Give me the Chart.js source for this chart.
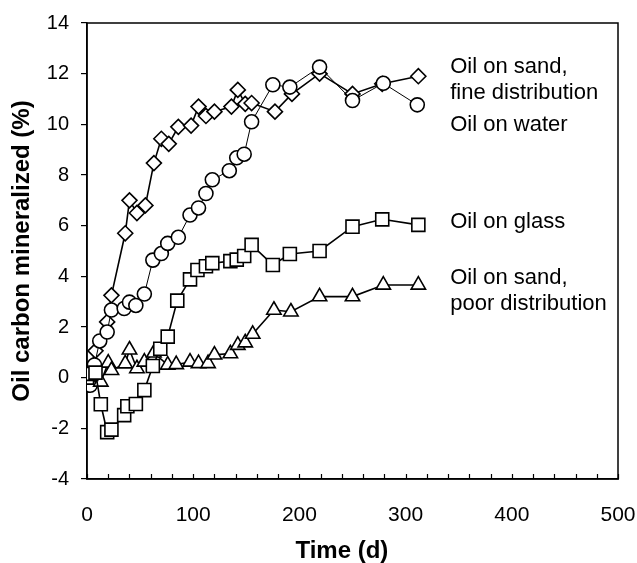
<!DOCTYPE html>
<html>
<head>
<meta charset="utf-8">
<script src="https://cdn.jsdelivr.net/npm/chart.js@4"></script>
<style>
  html, body { margin: 0; padding: 0; background: #fff; }
  #wrap { width: 637px; height: 563px; }
</style>
</head>
<body>
<div id="wrap"><canvas id="oilChart" width="637" height="563"></canvas></div>
<script>
const sandFineDays = [0, 8, 19, 23, 36, 40, 47, 55, 63, 70, 77, 86, 98, 105, 112, 120, 136, 142, 149, 155, 177, 193, 219, 250, 278, 312];
const sandFineValues = [0, 1.06, 2.2, 3.25, 5.7, 7.0, 6.5, 6.8, 8.47, 9.43, 9.23, 9.9, 9.95, 10.7, 10.33, 10.5, 10.7, 11.36, 10.81, 10.84, 10.5, 11.2, 12.0, 11.2, 11.6, 11.9];

const waterDays = [3, 7, 12, 19, 23, 35, 40, 46, 54, 62, 70, 76, 86, 97, 105, 112, 118, 134, 141, 148, 155, 175, 191, 219, 250, 279, 311];
const waterValues = [-0.3, 0.5, 1.45, 1.8, 2.67, 2.73, 2.98, 2.85, 3.3, 4.64, 4.9, 5.3, 5.54, 6.42, 6.7, 7.27, 7.81, 8.17, 8.68, 8.82, 10.1, 11.56, 11.47, 12.26, 10.94, 11.62, 10.77];

const glassDays = [0, 4, 8, 13, 19, 23, 35, 38, 46, 54, 62, 69, 76, 85, 97, 104, 112, 118, 135, 141, 148, 155, 175, 191, 219, 250, 278, 312];
const glassValues = [0, 0.15, 0.2, -1.05, -2.15, -2.05, -1.48, -1.13, -1.04, -0.49, 0.46, 1.14, 1.62, 3.04, 3.88, 4.25, 4.4, 4.52, 4.6, 4.66, 4.8, 5.24, 4.45, 4.88, 5.0, 5.96, 6.25, 6.03];

const sandPoorDays = [0, 13, 20, 23, 36, 40, 47, 54, 63, 76, 84, 97, 105, 114, 120, 135, 142, 149, 156, 176, 192, 219, 250, 279, 312];
const sandPoorValues = [0, -0.17, 0.58, 0.29, 0.55, 1.1, 0.36, 0.62, 0.98, 0.5, 0.52, 0.62, 0.56, 0.56, 0.9, 0.95, 1.28, 1.38, 1.72, 2.67, 2.6, 3.2, 3.2, 3.66, 3.66];

// Beschriftungen im Diagramm: [Text, x (Tage), y (%)]
const seriesLabels = [
    ['Oil on sand,', 342, 12.25],
    ['fine distribution', 342, 11.22],
    ['Oil on water', 342, 9.98],
    ['Oil on glass', 342, 6.15],
    ['Oil on sand,', 342, 3.93],
    ['poor distribution', 342, 2.9]
];

const xTickLabels = [0, 100, 200, 300, 400, 500];
const yTickLabels = [-4, -2, 0, 2, 4, 6, 8, 10, 12, 14];
const xTitle = 'Time (d)';
const xTitleCenter = 240; // Mitte des Achsentitels (Tage), leicht links von der Mitte

const FONT = '"Liberation Sans", Arial, sans-serif';

function toPoints(days, values) {
    return days.map((d, i) => ({ x: d, y: values[i] }));
}

function series(label, days, values, style, radius, lineWidth, order) {
    return {
        label: label,
        data: toPoints(days, values),
        showLine: true,
        borderColor: '#000',
        backgroundColor: '#fff',
        borderWidth: lineWidth,
        pointStyle: style,
        pointRadius: radius,
        pointBorderWidth: 1.6,
        pointBorderColor: '#000',
        pointBackgroundColor: '#fff',
        order: order
    };
}

// Rahmen, innere Teilstriche der x-Achse und Beschriftungen
const framePlugin = {
    id: 'frame',
    beforeDatasetsDraw(chart) {
        const { ctx, chartArea, scales } = chart;
        ctx.save();
        ctx.strokeStyle = '#000';
        ctx.lineWidth = 1.5;
        ctx.strokeRect(chartArea.left, chartArea.top, chartArea.right - chartArea.left, chartArea.bottom - chartArea.top);
        // kleine Striche alle 20 Tage, nach innen
        ctx.lineWidth = 1.2;
        ctx.beginPath();
        for (let d = 0; d <= 500; d += 20) {
            const px = Math.round(scales.x.getPixelForValue(d)) + 0.5;
            ctx.moveTo(px, chartArea.bottom);
            ctx.lineTo(px, chartArea.bottom - 5);
        }
        ctx.stroke();
        ctx.restore();
    },
    afterDatasetsDraw(chart) {
        const { ctx, scales } = chart;
        ctx.save();
        ctx.fillStyle = '#000';
        ctx.font = '22px ' + FONT;
        ctx.textBaseline = 'middle';
        ctx.textAlign = 'left';
        seriesLabels.forEach(([text, x, y]) => {
            ctx.fillText(text, scales.x.getPixelForValue(x), scales.y.getPixelForValue(y));
        });
        // Titel der x-Achse
        ctx.font = 'bold 24px ' + FONT;
        ctx.textAlign = 'center';
        ctx.textBaseline = 'alphabetic';
        ctx.fillText(xTitle, scales.x.getPixelForValue(xTitleCenter), chart.height - 5);
        ctx.restore();
    }
};

const chart = new Chart(document.getElementById('oilChart'), {
    type: 'scatter',
    data: {
        datasets: [
            series('Oil on glass', glassDays, glassValues, 'rect', 9.2, 1.6, 0),
            series('Oil on sand, poor distribution', sandPoorDays, sandPoorValues, 'triangle', 8.3, 1.6, 1),
            series('Oil on water', waterDays, waterValues, 'circle', 7, 1, 2),
            series('Oil on sand, fine distribution', sandFineDays, sandFineValues, 'rectRot', 7.5, 1.6, 3)
        ]
    },
    options: {
        responsive: false,
        animation: false,
        layout: { padding: { left: 0, top: 23, right: 19, bottom: 0 } },
        plugins: {
            legend: { display: false },
            tooltip: { enabled: false }
        },
        scales: {
            x: {
                type: 'linear',
                min: 0,
                max: 500,
                afterBuildTicks: s => { s.ticks = xTickLabels.map(v => ({ value: v })); },
                afterFit: s => { s.height = 84; s.paddingLeft = 0; s.paddingRight = 0; },
                grid: { display: false },
                border: { display: true, color: '#000', width: 1.5 },
                ticks: { color: '#000', font: { family: FONT, size: 21 }, padding: 16, maxRotation: 0 }
            },
            y: {
                type: 'linear',
                min: -4,
                max: 14,
                afterBuildTicks: s => { s.ticks = yTickLabels.map(v => ({ value: v })); },
                afterFit: s => { s.width = 87; s.paddingTop = 0; s.paddingBottom = 0; },
                grid: { drawOnChartArea: false, tickLength: 6, color: '#000', lineWidth: 1.2 },
                border: { display: true, color: '#000', width: 1.5 },
                ticks: { color: '#000', font: { family: FONT, size: 20 }, padding: 12 },
                title: {
                    display: true,
                    text: 'Oil carbon mineralized (%)',
                    color: '#000',
                    font: { family: FONT, size: 24, weight: 'bold' },
                    padding: { top: 8, bottom: 0 }
                }
            }
        }
    },
    plugins: [framePlugin]
});
</script>
</body>
</html>
